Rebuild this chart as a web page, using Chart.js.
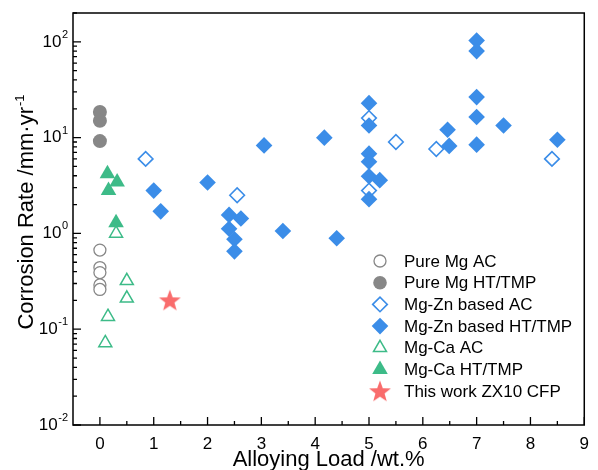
<!DOCTYPE html>
<html>
<head>
<meta charset="utf-8">
<script src="https://cdn.jsdelivr.net/npm/chart.js@4.4.1/dist/chart.umd.min.js"></script>
<style>
  html, body { margin: 0; padding: 0; background: #fff; }
  #wrap { width: 598px; height: 470px; }
</style>
</head>
<body>
<div id="wrap"><canvas id="myChart"></canvas></div>
<script>
// data (x = wt.%, y = mm/yr)
var pureAcX = [0, 0, 0, 0, 0];
var pureAcY = [0.67, 0.44, 0.39, 0.29, 0.26];
var pureHtX = [0, 0, 0];
var pureHtY = [18.5, 15, 9.2];
var znAcX = [0.85, 2.55, 5.0, 5.5, 5.0, 6.25, 8.4];
var znAcY = [6.0, 2.5, 16, 9.0, 2.8, 7.6, 6.0];
var znHtX = [1.0, 1.13, 2.0, 3.05, 2.4, 2.62, 2.4, 2.5, 2.5, 3.4, 4.4, 4.17, 5, 5, 5, 5, 5, 5.2, 5, 6.46, 6.49, 7, 7, 7, 7, 7, 7.5, 8.5];
var znHtY = [2.8, 1.7, 3.4, 8.3, 1.56, 1.43, 1.12, 0.87, 0.65, 1.06, 0.89, 10, 22.9, 13.4, 6.8, 5.6, 3.95, 3.6, 2.28, 12.1, 8.2, 103, 80, 26.5, 16.4, 8.45, 13.4, 9.5];
var caAcX = [0.3, 0.5, 0.5, 0.15, 0.1];
var caAcY = [1.0, 0.32, 0.21, 0.135, 0.072];
var caHtX = [0.14, 0.32, 0.16, 0.3];
var caHtY = [4.2, 3.45, 2.8, 1.29];
var thisX = [1.3];
var thisY = [0.2];

var xTicks = [0, 1, 2, 3, 4, 5, 6, 7, 8, 9];
var yExps = [-2, -1, 0, 1, 2];

var FONT = "'Liberation Sans', Arial, sans-serif";
var GREY = '#878787', BLUE = '#3b8de8', GREEN = '#3dbb88', RED = '#f96c6c';

function pts(xs, ys) {
  return xs.map(function (x, i) { return { x: x, y: ys[i] }; });
}

// filled star used as point style
var star = document.createElement('canvas');
star.width = 24; star.height = 24;
(function () {
  var c = star.getContext('2d');
  c.beginPath();
  for (var i = 0; i < 10; i++) {
    var r = i % 2 === 0 ? 11.5 : 4.8;
    var a = -Math.PI / 2 + i * Math.PI / 5;
    var px = 12 + r * Math.cos(a), py = 12.8 + r * Math.sin(a);
    if (i === 0) c.moveTo(px, py); else c.lineTo(px, py);
  }
  c.closePath();
  c.fillStyle = RED;
  c.fill();
})();

// frame, inward ticks, y labels, y title and legend
var decor = {
  id: 'decor',
  afterDatasetsDraw: function (chart) {
    var ctx = chart.ctx, a = chart.chartArea;
    var xs = chart.scales.x, ys = chart.scales.y;
    ctx.save();
    ctx.strokeStyle = '#000';
    ctx.lineWidth = 1.5;
    ctx.strokeRect(a.left, a.top, a.right - a.left, a.bottom - a.top);

    // x ticks
    ctx.lineWidth = 1.3;
    ctx.beginPath();
    for (var v = 0; v <= 9; v += 0.5) {
      var px = xs.getPixelForValue(v);
      var len = (v % 1 === 0) ? 8 : 4;
      ctx.moveTo(px, a.bottom);
      ctx.lineTo(px, a.bottom - len);
    }
    // y ticks
    for (var e = -2; e <= 2; e++) {
      for (var m = 1; m <= 9; m++) {
        var val = m * Math.pow(10, e);
        if (val > ys.max) break;
        var py = ys.getPixelForValue(val);
        ctx.moveTo(a.left, py);
        ctx.lineTo(a.left + (m === 1 ? 8 : 4), py);
      }
    }
    ctx.stroke();

    // y tick labels 10^n
    ctx.fillStyle = '#000';
    ctx.textBaseline = 'middle';
    yExps.forEach(function (n) {
      var py = ys.getPixelForValue(Math.pow(10, n));
      var ex = n < 0 ? '-' + Math.abs(n) : String(n);
      ctx.font = '11px ' + FONT;
      var we = ctx.measureText(ex).width;
      ctx.textAlign = 'left';
      ctx.fillText(ex, 68 - we, py - 7);
      ctx.font = '17px ' + FONT;
      ctx.textAlign = 'right';
      ctx.fillText('10', 68 - we - 0.5, py);
    });

    // y title
    ctx.save();
    ctx.translate(33, 212.5);
    ctx.rotate(-Math.PI / 2);
    ctx.textBaseline = 'alphabetic';
    ctx.textAlign = 'left';
    ctx.font = '22px ' + FONT;
    var main = 'Corrosion Rate /mm\u00b7yr';
    var w1 = ctx.measureText(main).width;
    ctx.font = '13px ' + FONT;
    var w2 = ctx.measureText('-1').width;
    var x0 = -(w1 + w2) / 2;
    ctx.font = '22px ' + FONT;
    ctx.fillText(main, x0, 0);
    ctx.font = '13px ' + FONT;
    ctx.fillText('-1', x0 + w1 + 1, -9);
    ctx.restore();

    // legend inside the plot
    var H = Chart.helpers;
    chart.data.datasets.forEach(function (ds, i) {
      var ly = 261 + i * 21.7;
      ctx.fillStyle = ds.backgroundColor;
      ctx.strokeStyle = ds.borderColor;
      ctx.lineWidth = ds.borderWidth;
      H.drawPoint(ctx, { pointStyle: ds.pointStyle, radius: ds.legendRadius, borderWidth: ds.borderWidth, rotation: 0 }, 380, ly);
      ctx.fillStyle = '#000';
      ctx.font = '17px ' + FONT;
      ctx.textAlign = 'left';
      ctx.textBaseline = 'middle';
      ctx.fillText(ds.label, 404, ly + 1);
    });
    ctx.restore();
  }
};

var ctx = document.getElementById('myChart').getContext('2d');
var myChart = new Chart(ctx, {
  type: 'scatter',
  data: {
    datasets: [
      { label: 'Pure Mg AC', data: pts(pureAcX, pureAcY), pointStyle: 'circle', pointRadius: 6, legendRadius: 6,
        backgroundColor: '#fff', borderColor: GREY, borderWidth: 1.3, order: 3 },
      { label: 'Pure Mg HT/TMP', data: pts(pureHtX, pureHtY), pointStyle: 'circle', pointRadius: 7, legendRadius: 6.8,
        backgroundColor: GREY, borderColor: GREY, borderWidth: 0, order: 2 },
      { label: 'Mg-Zn based AC', data: pts(znAcX, znAcY), pointStyle: 'rectRot', pointRadius: 7.3, legendRadius: 7.3,
        backgroundColor: '#fff', borderColor: BLUE, borderWidth: 1.6, order: 3 },
      { label: 'Mg-Zn based HT/TMP', data: pts(znHtX, znHtY), pointStyle: 'rectRot', pointRadius: 8.3, legendRadius: 8.3,
        backgroundColor: BLUE, borderColor: BLUE, borderWidth: 0, order: 2 },
      { label: 'Mg-Ca AC', data: pts(caAcX, caAcY), pointStyle: 'triangle', pointRadius: 7.5, legendRadius: 7.5,
        backgroundColor: '#fff', borderColor: GREEN, borderWidth: 1.5, order: 3 },
      { label: 'Mg-Ca HT/TMP', data: pts(caHtX, caHtY), pointStyle: 'triangle', pointRadius: 9, legendRadius: 9,
        backgroundColor: GREEN, borderColor: GREEN, borderWidth: 0, order: 2 },
      { label: 'This work ZX10 CFP', data: pts(thisX, thisY), pointStyle: star, pointRadius: 11, legendRadius: 11,
        backgroundColor: RED, borderColor: RED, borderWidth: 0, order: 1 }
    ]
  },
  options: {
    responsive: true,
    maintainAspectRatio: false,
    animation: false,
    layout: { padding: { top: 13, right: 13, left: 0, bottom: 0 } },
    plugins: {
      legend: { display: false },
      tooltip: { enabled: false }
    },
    scales: {
      x: {
        type: 'linear',
        min: -0.5,
        max: 9,
        afterBuildTicks: function (scale) {
          scale.ticks = xTicks.map(function (v) { return { value: v }; });
        },
        afterFit: function (scale) { scale.height = 45; },
        grid: { display: false, drawTicks: false },
        border: { display: false },
        ticks: { color: '#000', font: { size: 17, family: FONT }, padding: 9, maxRotation: 0, autoSkip: false },
        title: { display: true, text: 'Alloying Load /wt.%', color: '#000', font: { size: 22, family: FONT }, padding: { top: 0, bottom: -3 } }
      },
      y: {
        type: 'logarithmic',
        min: 0.01,
        max: 200,
        afterFit: function (scale) { scale.width = 73; },
        grid: { display: false, drawTicks: false },
        border: { display: false },
        ticks: { display: false }
      }
    }
  },
  plugins: [decor]
});
</script>
</body>
</html>
